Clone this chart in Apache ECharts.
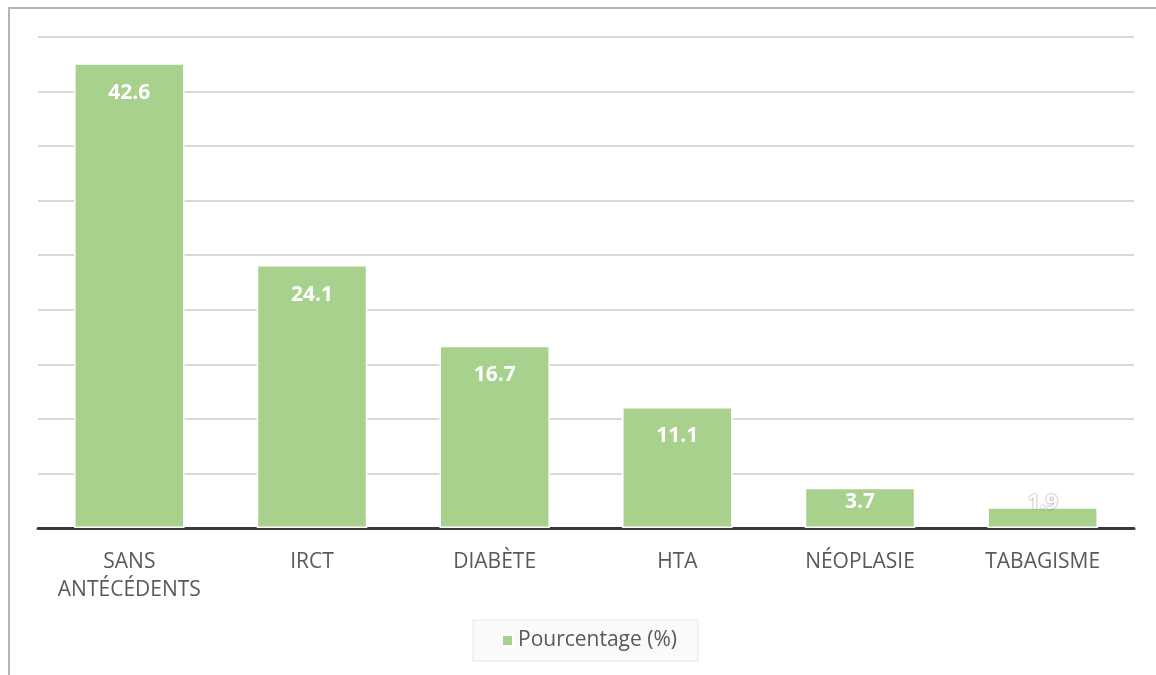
<!DOCTYPE html>
<html><head><meta charset="utf-8">
<script src="https://cdn.jsdelivr.net/npm/echarts@6/dist/echarts.min.js"></script>
<style>
html,body{margin:0;padding:0;background:#fff;}
#frame{position:absolute;left:8px;top:7px;width:1160px;height:666px;border-left:2px solid #b5b5b5;border-top:2px solid #b5b5b5;}
#c{position:absolute;left:0;top:0;width:1156px;height:675px;}
</style></head>
<body>
<div id="frame"></div>
<div id="c"></div>
<script>
const categories = ['SANS\nANTÉCÉDENTS', 'IRCT', 'DIABÈTE', 'HTA', 'NÉOPLASIE', 'TABAGISME'];
const values = [42.6, 24.1, 16.7, 11.1, 3.7, 1.9];
const seriesName = 'Pourcentage (%)';

const chart = echarts.init(document.getElementById('c'));
const data = values.map((v, i) => {
  if (i === 5) {
    return { value: v, label: { position: 'top', distance: -6, textShadowColor: 'rgba(0,0,0,0.55)', textShadowBlur: 2 } };
  }
  if (i === 4) {
    return { value: v, label: { distance: 4 } };
  }
  return v;
});
chart.setOption({
  animation: false,
  grid: { left: 38, right: 22, top: 37, bottom: 147 },
  xAxis: {
    type: 'category', data: categories,
    axisLine: { lineStyle: { color: '#3a3a3a', width: 3 } },
    axisTick: { show: false },
    axisLabel: { interval: 0, color: '#595959', fontSize: 21, fontFamily: 'Open Sans', margin: 20, lineHeight: 28 }
  },
  yAxis: {
    type: 'value', min: 0, max: 45, interval: 5,
    axisLabel: { show: false }, axisLine: { show: false }, axisTick: { show: false },
    splitLine: { lineStyle: { color: '#d9d9d9', width: 2 } }
  },
  legend: {
    data: [seriesName], left: 473, top: 620,
    backgroundColor: '#fafafa', borderColor: '#e6e6e6', borderWidth: 1,
    padding: [10, 21, 10, 28],
    icon: 'rect', itemWidth: 11, itemHeight: 11, itemGap: 5,
    textStyle: { color: '#595959', fontSize: 21, fontFamily: 'Open Sans' }
  },
  series: [{
    name: seriesName, type: 'bar', data: data, barWidth: '60.5%',
    itemStyle: { color: '#a9d18e', borderColor: '#ffffff', borderWidth: 1.5 },
    label: { show: true, position: 'insideTop', distance: 19, color: '#ffffff', fontWeight: 'bold', fontSize: 21, fontFamily: 'Open Sans' }
  }]
});
</script>
</body></html>
